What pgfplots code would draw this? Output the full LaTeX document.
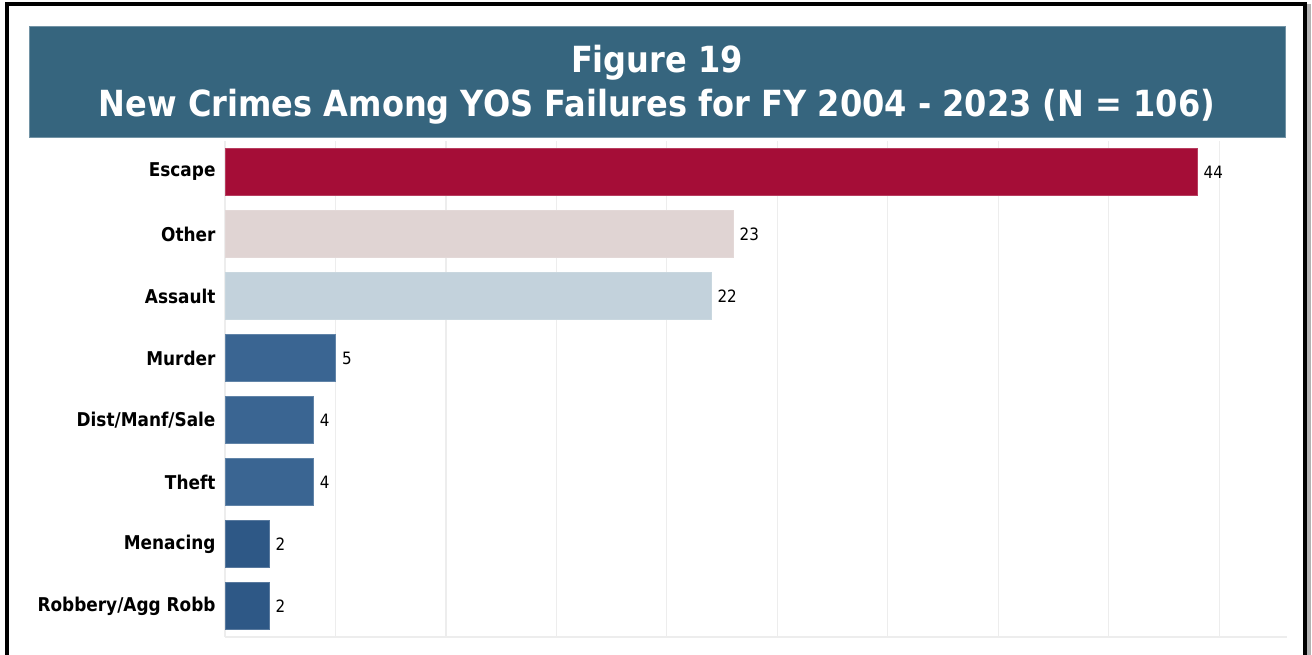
\documentclass[border=0pt]{standalone}
\usepackage{fontspec}
\setmainfont{DejaVu Sans}[FakeStretch=0.89]
\usepackage{pgfplots}
\pgfplotsset{compat=1.18}
\definecolor{banner}{HTML}{36657E}
\definecolor{cEsc}{HTML}{A50D37}
\definecolor{cOth}{HTML}{E0D4D3}
\definecolor{cAss}{HTML}{C3D2DC}
\definecolor{cMid}{HTML}{3A6592}
\definecolor{cDark}{HTML}{2E5886}
\definecolor{gridc}{HTML}{EDEDED}
\begin{document}
\begin{tikzpicture}[x=1pt,y=1pt]
\path[use as bounding box] (0,0) rectangle (1312,654);
% frame
\fill[gray!60] (1307,-10) rectangle (1311,650);
\draw[black,line width=4pt] (7,-10) -- (7,650) -- (1305,650) -- (1305,-10);
% banner
\fill[banner] (29,517) rectangle (1285,628);
\draw[banner!70!white,line width=0.8pt] (29,517) rectangle (1285,628);
\node[text=white,font=\bfseries\fontsize{36}{40}\selectfont,anchor=base,inner sep=0pt] at (657,581.3) {Figure 19};
\node[text=white,font=\bfseries\fontsize{36}{40}\selectfont,anchor=base,inner sep=0pt] at (657,537.3) {New Crimes Among YOS Failures for FY 2004 - 2023 (N = 106)};
\begin{axis}[
  at={(225pt,17pt)}, anchor=south west,
  scale only axis, width=1062pt, height=496pt,
  xmin=0, xmax=48.07, ymin=-0.5, ymax=7.5, y dir=reverse,
  axis line style={draw=none},
  xtick={0,5,...,45}, xticklabels={},
  xmajorgrids, major grid style={gridc, line width=1.2pt},
  major tick length=0pt,
  ytick={0,...,7},
  yticklabels={Escape,Other,Assault,Murder,Dist/Manf/Sale,Theft,Menacing,Robbery/Agg Robb},
  yticklabel style={font=\bfseries\fontsize{19}{22}\selectfont, xshift=-6pt},
  /pgf/number format/assume math mode=true,
  xbar, bar width=0.76, bar shift=0pt,
  nodes near coords,
  nodes near coords style={font=\fontsize{17}{20}\selectfont, text=black, xshift=3pt},
  clip=false,
]
\addplot[fill=cEsc, draw=cEsc!80!white] coordinates {(44,0)};
\addplot[fill=cOth, draw=cOth!90!white] coordinates {(23,1)};
\addplot[fill=cAss, draw=cAss!90!white] coordinates {(22,2)};
\addplot[fill=cMid, draw=cMid!80!white] coordinates {(5,3) (4,4) (4,5)};
\addplot[fill=cDark, draw=cDark!80!white] coordinates {(2,6) (2,7)};
\draw[gridc, line width=1.2pt] (axis cs:0,7.5) -- (axis cs:48.07,7.5);
\end{axis}
\end{tikzpicture}
\end{document}
